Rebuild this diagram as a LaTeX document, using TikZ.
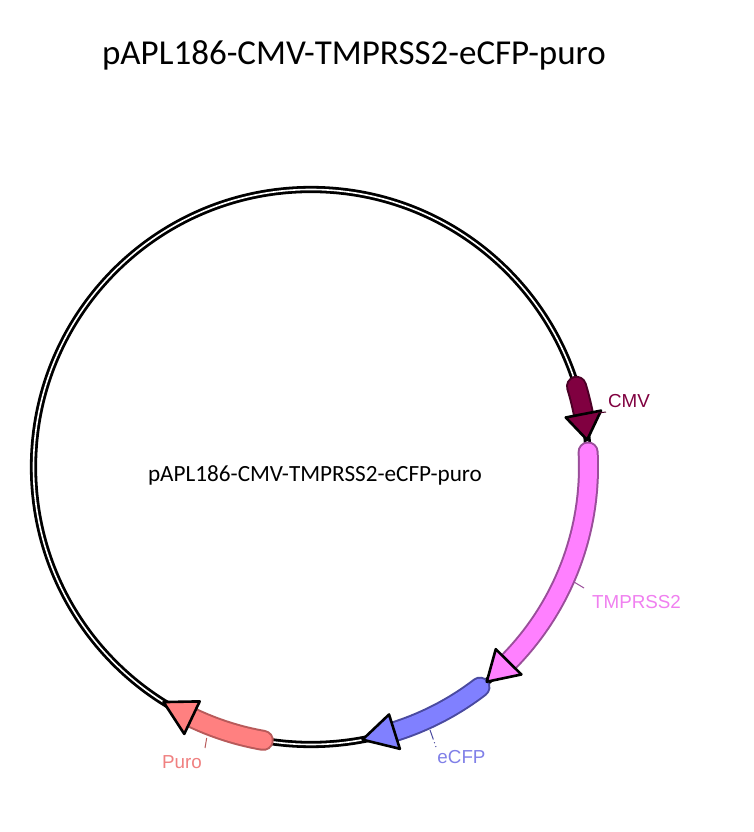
\documentclass[tikz,border=0pt]{standalone}
\usepackage{fontspec}
\setmainfont{Carlito}
\newfontfamily\labfont{Liberation Sans}
\definecolor{cmvc}{HTML}{800040}
\definecolor{cmvo}{HTML}{4A0025}
\definecolor{tmpc}{HTML}{FF80FF}
\definecolor{tmpo}{HTML}{9A4E9A}
\definecolor{tmpt}{HTML}{F080F0}
\definecolor{cfpc}{HTML}{8080FF}
\definecolor{cfpo}{HTML}{4A4AA0}
\definecolor{cfpt}{HTML}{8080E8}
\definecolor{puroc}{HTML}{FF8080}
\definecolor{puroo}{HTML}{B85A5A}
\definecolor{purot}{HTML}{F08080}
\def\R{277.5pt}
\def\Ro{295.5pt}
\def\Ri{259.5pt}
\newcommand{\plasfeat}[5]{%
  \draw[featline, line width=21pt, draw=#5] ({90-#1}:\R) arc[start angle={90-#1}, end angle={90-#2}, radius=\R];
  \draw[featline, line width=17pt, draw=#4] ({90-#1}:\R) arc[start angle={90-#1}, end angle={90-#2}, radius=\R];
  \draw[arrowhd, fill=#4] ({90-#3}:\R) -- ({90-#2}:\Ro) -- ({90-#2}:\Ri) -- cycle;
}
\tikzset{
  backbone/.style={draw=black, line width=2.8pt, double=white, double distance=1.6pt},
  featline/.style={line cap=round},
  arrowhd/.style={draw=black, line width=2.6pt, line join=round},
  featlabel/.style={font=\labfont\fontsize{18.8}{20}\selectfont, anchor=base, inner sep=0pt},
  ticker/.style={line width=1pt},
}
\begin{document}
\begin{tikzpicture}
\useasboundingbox[fill=white] (-311pt,-365pt) rectangle (442pt,467pt);
% backbone
\draw[backbone] (0,0) circle[radius=\R];
% features
\plasfeat{189.9}{205.4}{212.1}{puroc}{puroo}
\plasfeat{142.5}{162.5}{169.3}{cfpc}{cfpo}
\plasfeat{86.9}{134.6}{140.7}{tmpc}{tmpo}
\plasfeat{73.1}{79.0}{84.4}{cmvc}{cmvo}
% labels
\node[anchor=base, inner sep=0pt, font=\fontsize{35}{40}\selectfont] (title) at (43pt,402pt) {pAPL186-CMV-TMPRSS2-eCFP-puro};
\node[anchor=base, inner sep=0pt, font=\fontsize{23.2}{27}\selectfont] (centre) at (4pt,-15pt) {pAPL186-CMV-TMPRSS2-eCFP-puro};
\node[featlabel, text=cmvc] (lcmv) at (318pt,59pt) {CMV};
\node[featlabel, text=tmpt] (ltmp) at (325.5pt,-141pt) {TMPRSS2};
\node[featlabel, text=cfpt] (lcfp) at (150.5pt,-296pt) {eCFP};
\node[featlabel, text=purot] (lpuro) at (-129pt,-301pt) {Puro};
% ticks
\coordinate (tc1) at (287pt,54pt); \coordinate (tc2) at (295pt,55pt);
\coordinate (tt1) at (263pt,-115pt); \coordinate (tt2) at (273pt,-121pt);
\coordinate (te1) at (119pt,-263pt); \coordinate (te2) at (125pt,-280pt);
\coordinate (tp1) at (-104.3pt,-271pt); \coordinate (tp2) at (-106pt,-281pt);
\draw[ticker, draw=cmvo] (tc1) -- (tc2);
\draw[ticker, draw=tmpo] (tt1) -- (tt2);
\draw[ticker, draw=cfpo, dash pattern=on 10pt off 3pt on 1pt off 3pt] (te1) -- (te2);
\draw[ticker, draw=puroo] (tp1) -- (tp2);
\end{tikzpicture}
\end{document}
